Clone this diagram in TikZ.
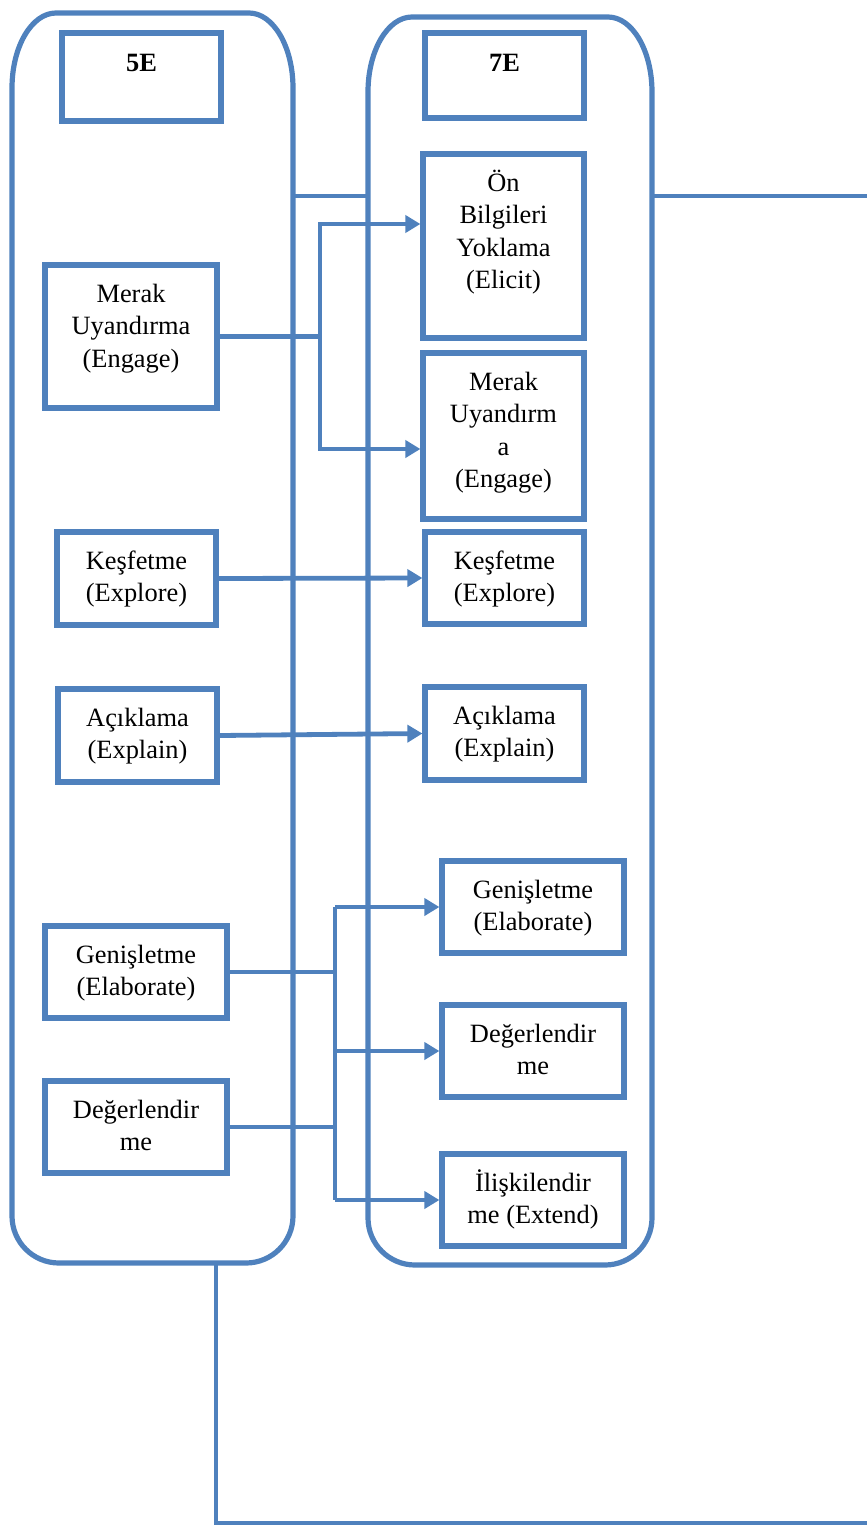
\documentclass[tikz,border=0pt]{standalone}
\usepackage{fontspec}
\setmainfont{Liberation Serif}
\usetikzlibrary{arrows.meta,calc}
\definecolor{officeblue}{RGB}{79,129,189}
\newcommand\tstrut{\rule{0pt}{24pt}}
\tikzset{
  cont/.style={draw=officeblue, line width=5.2pt},
  box/.style={draw=officeblue, line width=5.2pt, rectangle, inner sep=0pt},
  lbl/.style={font=\fontsize{26.4}{32.5}\selectfont, align=center, inner sep=0pt,
              anchor=north, yshift=-15.5pt, text=black},
  conn/.style={draw=officeblue, line width=4.8pt},
  arr/.style={conn, -{Triangle[length=15pt,width=17pt]}},
  frame/.style={inner sep=0pt, outer sep=0pt, rectangle}
}
\begin{document}
\begin{tikzpicture}[x=1pt, y=-1pt]
\useasboundingbox (0,0) rectangle (867,1526);

% invisible frames of the two columns
\node[frame, minimum width=281pt, minimum height=1250pt] (c5) at (152.5,638) {};
\node[frame, minimum width=284pt, minimum height=1248pt] (c7) at (510,641) {};

% column outlines with oval top corners
\foreach \c in {c5,c7}{
  \draw[cont] ([xshift=44pt]\c.north west) -- ([xshift=-44pt]\c.north east)
    arc[start angle=90, end angle=0, x radius=44pt, y radius=75pt]
    -- ([yshift=47pt]\c.south east)
    arc[start angle=0, end angle=-90, radius=47pt]
    -- ([xshift=47pt]\c.south west)
    arc[start angle=270, end angle=180, radius=47pt]
    -- ([yshift=-75pt]\c.north west)
    arc[start angle=180, end angle=90, x radius=44pt, y radius=75pt]
    -- cycle;
}

% 5E column
\node[box, minimum width=159pt, minimum height=88pt,
  label={[lbl, yshift=-1.5pt]north:{\tstrut\textbf{5E}}}] (b5) at (141.5,77) {};
\node[box, minimum width=172pt, minimum height=143pt,
  label={[lbl]north:{\tstrut Merak\\Uyandırma\\(Engage)}}] (en5) at (131,336.5) {};
\node[box, minimum width=159pt, minimum height=93pt,
  label={[lbl]north:{\tstrut Keşfetme\\(Explore)}}] (ex5) at (136.5,578.5) {};
\node[box, minimum width=159pt, minimum height=93pt,
  label={[lbl]north:{\tstrut Açıklama\\(Explain)}}] (xp5) at (137.5,735.5) {};
\node[box, minimum width=182pt, minimum height=92pt,
  label={[lbl]north:{\tstrut Genişletme\\(Elaborate)}}] (ela5) at (136,972) {};
\node[box, minimum width=182pt, minimum height=92pt,
  label={[lbl]north:{\tstrut Değerlendir\\me}}] (ev5) at (136,1127) {};

% 7E column
\node[box, minimum width=159pt, minimum height=85pt,
  label={[lbl, yshift=-1.5pt]north:{\tstrut\textbf{7E}}}] (b7) at (504.5,75.5) {};
\node[box, minimum width=161pt, minimum height=184pt,
  label={[lbl]north:{\tstrut Ön\\Bilgileri\\Yoklama\\(Elicit)}}] (el7) at (503.5,246) {};
\node[box, minimum width=161pt, minimum height=166pt,
  label={[lbl]north:{\tstrut Merak\\Uyandırm\\a\\(Engage)}}] (en7) at (503.5,436) {};
\node[box, minimum width=159pt, minimum height=92pt,
  label={[lbl]north:{\tstrut Keşfetme\\(Explore)}}] (ex7) at (504.5,578) {};
\node[box, minimum width=159pt, minimum height=93pt,
  label={[lbl]north:{\tstrut Açıklama\\(Explain)}}] (xp7) at (504.5,733.5) {};
\node[box, minimum width=182pt, minimum height=92pt,
  label={[lbl]north:{\tstrut Genişletme\\(Elaborate)}}] (ela7) at (533,907) {};
\node[box, minimum width=182pt, minimum height=92pt,
  label={[lbl]north:{\tstrut Değerlendir\\me}}] (ev7) at (533,1051) {};
\node[box, minimum width=182pt, minimum height=92pt,
  label={[lbl]north:{\tstrut İlişkilendir\\me (Extend)}}] (ext7) at (533,1200) {};

% helper coordinates for the bus lines and free ends
\coordinate (busE) at (320,0);
\coordinate (busX) at (335,0);
\coordinate (linkY) at (0,196);
\coordinate (outR) at (867,196);
\coordinate (drop) at (216,1523);
\coordinate (outB) at (867,1523);

% link between the columns and out to the right
\draw[conn] (c5.east |- linkY) -- (c7.west |- linkY);
\draw[conn] (c7.east |- linkY) -- (outR);
\draw[conn] (c5.south -| drop) -- (drop) -- (outB);

% Engage splits into Elicit and Engage
\draw[arr] (en5.east) -- (en5.east -| busE) |- ([yshift=22pt]el7.west);
\draw[arr] (en5.east) -- (en5.east -| busE) |- ([yshift=-13pt]en7.west);

% one-to-one phases
\draw[arr] (ex5.east) -- (ex7.west);
\draw[arr] (xp5.east) -- (xp7.west);

% Elaborate and Evaluate feed Elaborate, Evaluate and Extend
\draw[conn] (ela7.west -| busX) -- (ext7.west -| busX);
\draw[conn] (ela5.east) -- (ela5.east -| busX);
\draw[conn] (ev5.east) -- (ev5.east -| busX);
\draw[arr] (ela7.west -| busX) -- (ela7.west);
\draw[arr] (ev7.west -| busX) -- (ev7.west);
\draw[arr] (ext7.west -| busX) -- (ext7.west);
\end{tikzpicture}
\end{document}
